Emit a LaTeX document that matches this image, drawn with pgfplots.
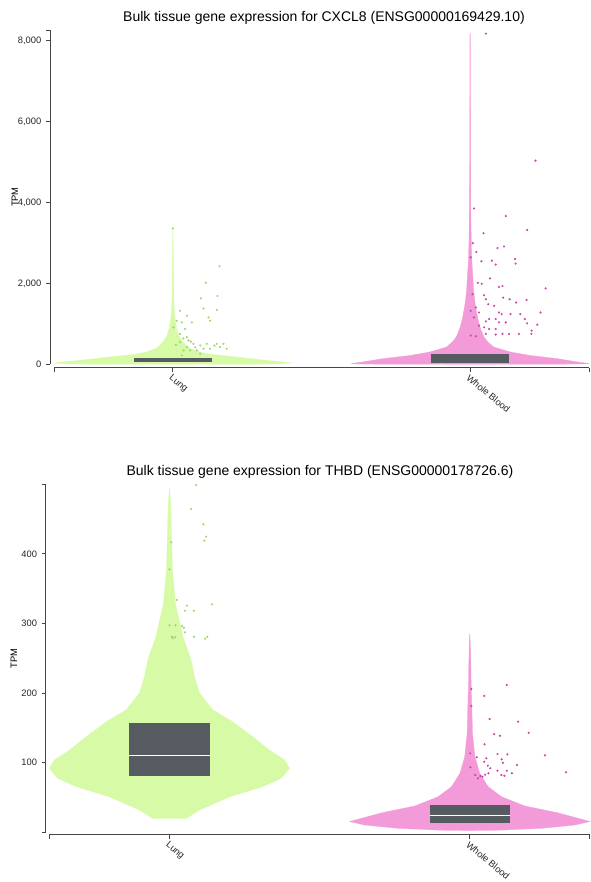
\documentclass[border=0pt]{standalone}
\usepackage{pgfplots}
\pgfplotsset{compat=1.18}
\usepackage{pgfplotstable}
\usepackage{fontspec}
\setmainfont{Liberation Sans}

\definecolor{lungc}{RGB}{214,250,166}
\definecolor{bloodc}{RGB}{243,155,217}
\definecolor{lungpt}{RGB}{165,212,115}
\definecolor{bloodpt}{RGB}{206,72,172}
\definecolor{boxc}{RGB}{86,91,97}
\definecolor{axc}{RGB}{70,70,70}

% violin outlines: y = TPM, w = half width (category units)
\pgfplotstableread{
y w
0 0
2 0.28
10 0.36
30 0.40
60 0.37
100 0.31
155 0.245
200 0.19
245 0.13
300 0.09
400 0.055
500 0.040
590 0.030
700 0.020
900 0.012
1100 0.008
1300 0.005
1600 0.003
2000 0.002
2600 0.0012
3380 0
}\cxLung
\pgfplotstableread{
y w
0 0
2 0.30
8 0.38
17 0.40
60 0.36
139 0.293
220 0.20
301 0.137
424 0.08
550 0.06
669 0.047
900 0.034
1158 0.025
1500 0.017
1811 0.012
2546 0.006
3000 0.004
3851 0.002
5000 0.0012
6500 0.0008
8170 0.0004
8176 0
}\cxBlood
\pgfplotstableread{
y w
19.9 0
20 0.056
32 0.10
51 0.20
65.5 0.31
77.6 0.372
92 0.40
104 0.383
118 0.333
137 0.278
159 0.21
176 0.144
200 0.10
224 0.083
248 0.072
281 0.045
329 0.02
377 0.01
425 0.007
473 0.004
495 0
}\thLung
\pgfplotstableread{
y w
2.4 0
3 0.10
5.7 0.24
10.4 0.35
15.5 0.40
28 0.293
37.8 0.183
51 0.106
65.5 0.061
84.8 0.033
108.6 0.017
142 0.009
214 0.0045
262 0.0025
285 0
}\thBlood

\pgfplotsset{gtex/.style={
  scale only axis, clip=false, anchor=south west,
  axis x line*=bottom, axis y line*=left,
  axis line style={axc, line width=0.75pt},
  tick align=outside, major tick length=3pt,
  tick style={axc, line width=0.75pt},
  every tick label/.append style={font=\fontsize{7}{8}\selectfont, text=black!85},
  xmin=-0.4, xmax=1.4,
  xtick={0,1}, xticklabels={Lung,Whole Blood},
  x tick label style={rotate=-40, anchor=north west, inner sep=1pt},
  extra x ticks={-0.4,1.4}, extra x tick labels={},
  extra tick style={grid=none},
  ylabel={TPM},
  ylabel style={font=\fontsize{7}{8}\selectfont, anchor=center},
  /pgf/number format/1000 sep={,},
  /pgf/number format/assume math mode=true,
}}

\begin{document}
\begin{tikzpicture}
\path[use as bounding box] (0,0) rectangle (442.5pt,-661.5pt);
\node[font=\fontsize{10.5}{12}\selectfont] at (243pt,-13.5pt) {Bulk tissue gene expression for CXCL8 (ENSG00000169429.10)};
\node[font=\fontsize{10.5}{12}\selectfont] at (240pt,-354pt) {Bulk tissue gene expression for THBD (ENSG00000178726.6)};

% ---------- top: CXCL8 ----------
\begin{axis}[gtex,
  at={(40.5pt,-273.2pt)}, width=401.25pt, height=250.7pt,
  axis x line shift=2.5pt, axis y line shift=3pt,
  ylabel style={at={(axis description cs:-0.0729,0.5)}},
  ymin=0, ymax=8264,
  ytick={0,2000,4000,6000,8000},
  extra y ticks={8264}, extra y tick labels={},
]
\addplot[fill=lungc, draw=lungc, line width=0.2pt] table[x expr=\thisrow{w}, y=y] {\cxLung} -- cycle;
\addplot[fill=lungc, draw=lungc, line width=0.2pt] table[x expr=-\thisrow{w}, y=y] {\cxLung} -- cycle;
\addplot[fill=bloodc, draw=bloodc, line width=0.2pt] table[x expr=1+\thisrow{w}, y=y] {\cxBlood} -- cycle;
\addplot[fill=bloodc, draw=bloodc, line width=0.2pt] table[x expr=1-\thisrow{w}, y=y] {\cxBlood} -- cycle;
\addplot[only marks, mark=*, mark size=0.6pt, lungpt] coordinates {
(0.0,3361) (0.157,2424) (0.111,2015) (0.150,1689) (0.094,1632) (0.103,1379)
(0.148,1338) (0.024,1322) (0.047,1200) (0.120,1158) (0.013,1077) (0.030,1036)
(0.064,1036) (0.125,1077) (0.002,913) (0.041,873) (0.024,751) (0.047,669)
(0.052,588) (0.024,547) (0.069,506) (0.092,465) (0.114,506) (0.148,506)
(0.170,506) (0.181,384) (0.047,424) (0.058,343) (0.081,343) (0.103,384)
(0.125,384) (0.159,424) (0.036,343) (0.030,220) (0.092,262) (0.075,420)
(0.060,560) (0.035,640) (0.140,460) (0.010,480)
};
\addplot[only marks, mark=*, mark size=0.6pt, bloodpt] coordinates {
(1.053,8176) (1.220,5035) (1.013,3851) (1.120,3664) (1.192,3322) (1.045,3239)
(1.009,2995) (1.092,2872) (1.114,2913) (1.021,2774) (1.002,2644) (1.038,2546)
(1.073,2562) (1.086,2465) (1.151,2603) (1.153,2489) (1.067,2122) (1.026,2015)
(1.039,1991) (1.109,1934) (1.097,1910) (1.254,1877) (1.008,1731) (1.047,1706)
(1.053,1608) (1.111,1648) (1.133,1608) (1.190,1591) (1.155,1526) (1.061,1485)
(1.081,1444) (1.019,1403) (1.002,1322) (1.030,1281) (1.097,1281) (1.237,1281)
(1.106,1241) (1.136,1241) (1.169,1241) (1.013,1158) (1.064,1118) (1.086,1118)
(1.184,1118) (1.053,1060) (1.097,1036) (1.120,1036) (1.192,1011) (1.030,955)
(1.226,979) (1.047,913) (1.064,873) (1.086,873) (1.207,832) (1.109,751)
(1.131,751) (1.164,751) (1.206,751) (1.053,751) (1.086,734) (1.002,710)
(1.019,693)
};
\addplot[fill=boxc, draw=none] coordinates {(-0.1325,55) (0.1325,55) (0.1325,150) (-0.1325,150)} -- cycle;
\addplot[fill=boxc, draw=none] coordinates {(0.8675,40) (1.1325,40) (1.1325,260) (0.8675,260)} -- cycle;
\end{axis}

% ---------- bottom: THBD ----------
\begin{axis}[gtex,
  at={(36.98pt,-624.2pt)}, width=405.5pt, height=260.9pt,
  axis x line shift=1.8pt, axis y line shift=2.7pt,
  ylabel style={at={(axis description cs:-0.0653,0.5)}},
  ymin=0, ymax=500,
  ytick={100,200,300,400},
  extra y ticks={0,500}, extra y tick labels={},
]
\addplot[fill=lungc, draw=lungc, line width=0.2pt] table[x expr=\thisrow{w}, y=y] {\thLung} -- cycle;
\addplot[fill=lungc, draw=lungc, line width=0.2pt] table[x expr=-\thisrow{w}, y=y] {\thLung} -- cycle;
\addplot[fill=bloodc, draw=bloodc, line width=0.2pt] table[x expr=1+\thisrow{w}, y=y] {\thBlood} -- cycle;
\addplot[fill=bloodc, draw=bloodc, line width=0.2pt] table[x expr=1-\thisrow{w}, y=y] {\thBlood} -- cycle;
\addplot[only marks, mark=*, mark size=0.6pt, lungpt] coordinates {
(0.089,499) (0.072,464.7) (0.113,442.7) (0.122,424.9) (0.116,419.1) (0.006,416.8)
(0.0,378) (0.024,333.9) (0.058,325.7) (0.052,318.5) (0.081,318.5) (0.142,327.7)
(0.0,297.5) (0.020,297.5) (0.042,296.5) (0.048,294) (0.052,287.4) (0.008,281)
(0.011,278.8) (0.019,280.2) (0.082,281) (0.119,278.2) (0.126,281)
};
\addplot[only marks, mark=*, mark size=0.6pt, bloodpt] coordinates {
(1.123,211.7) (1.005,206) (1.048,196) (1.005,181.5) (1.066,162.8) (1.161,159)
(1.196,143) (1.081,141) (1.100,138.8) (1.049,126.4) (1.250,110.6) (1.092,112.5)
(1.125,112) (1.001,113.5) (1.023,107.8) (1.055,106.3) (1.106,104.9) (1.110,100)
(1.048,101.4) (1.157,96.7) (1.060,95.7) (1.068,92) (1.002,93.4) (1.092,88.5)
(1.123,88.5) (1.140,84.8) (1.105,82.3) (1.320,86.2) (1.018,82.3) (1.035,80.9)
(1.051,82.8) (1.062,84.8) (1.027,77.6) (1.042,79.9) (1.115,81.3)
};
\addplot[fill=boxc, draw=none] coordinates {(-0.134,81) (0.134,81) (0.134,157.5) (-0.134,157.5)} -- cycle;
\addplot[white, line width=1pt] coordinates {(-0.134,110.6) (0.134,110.6)};
\addplot[fill=boxc, draw=none] coordinates {(0.866,13) (1.134,13) (1.134,39.2) (0.866,39.2)} -- cycle;
\addplot[white, line width=1pt] coordinates {(0.866,23.8) (1.134,23.8)};
\end{axis}
\end{tikzpicture}
\end{document}
